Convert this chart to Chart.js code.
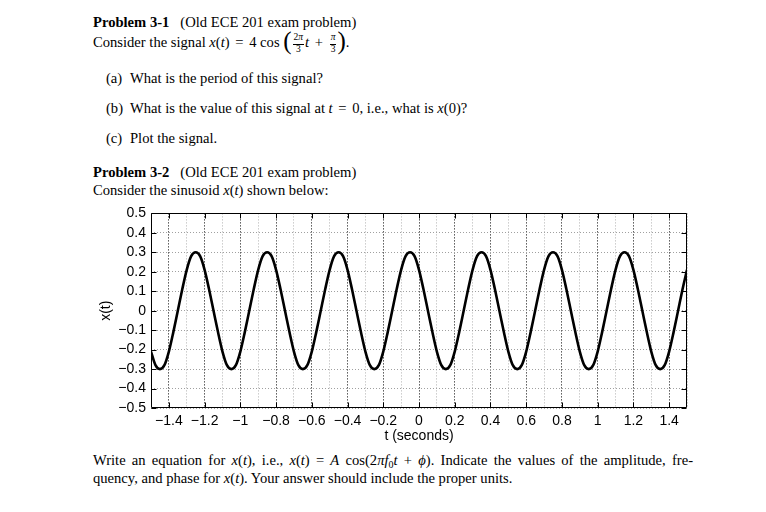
<!DOCTYPE html>
<html>
<head>
<meta charset="utf-8">
<script src="https://cdn.jsdelivr.net/npm/chart.js@4/dist/chart.umd.min.js"></script>
<style>
  html, body { margin:0; padding:0; background:#fff; }
  body { width:766px; height:512px; position:relative; overflow:hidden; }
  .t { position:absolute; left:93px; font-family:'Liberation Serif','Times New Roman',serif; font-size:14.6px; line-height:1; color:#000; white-space:nowrap; }
  .t i { font-style:italic; }
  .lbl { display:inline-block; width:24px; }
  .frac { display:inline-block; vertical-align:-5px; text-align:center; font-size:9.5px; line-height:1; margin:0 1px; }
  .frac .num { display:block; border-bottom:0.8px solid #000; padding:0 1px 1px 1px; }
  .frac .den { display:block; padding-top:0.5px; }
  .big { font-size:25px; line-height:0; position:relative; top:2px; }
  .sub { font-size:10px; position:relative; top:3px; line-height:0; }
  .op { margin:0 2px; }
  #wrap { position:absolute; left:80px; top:200px; width:620px; height:255px; }
</style>
</head>
<body>
<div class="t" style="top:15.1px"><b>Problem 3-1</b><span style="margin-left:11px">(Old ECE 201 exam problem)</span></div>
<div class="t" style="top:22.4px; line-height:40px">Consider the signal <i>x</i>(<i>t</i>)<span class="op"> = </span>4 cos <span class="big">(</span><span class="frac"><span class="num">2<i>π</i></span><span class="den">3</span></span><i>t</i><span class="op"> + </span><span class="frac"><span class="num"><i>π</i></span><span class="den">3</span></span><span class="big">)</span>.</div>
<div class="t" style="top:71.1px; left:106px"><span class="lbl">(a)</span>What is the period of this signal?</div>
<div class="t" style="top:101.1px; left:106px"><span class="lbl">(b)</span>What is the value of this signal at <i>t</i><span class="op"> = </span>0, i.e., what is <i>x</i>(0)?</div>
<div class="t" style="top:130.5px; left:106px"><span class="lbl">(c)</span>Plot the signal.</div>
<div class="t" style="top:164.5px"><b>Problem 3-2</b><span style="margin-left:11px">(Old ECE 201 exam problem)</span></div>
<div class="t" style="top:182.8px">Consider the sinusoid <i>x</i>(<i>t</i>) shown below:</div>
<div class="t" style="top:452.8px; width:600px; white-space:normal; text-align:justify; text-align-last:justify;">Write an equation for <i>x</i>(<i>t</i>), i.e., <i>x</i>(<i>t</i>) = <i>A</i> cos(2<i>π</i><i>f</i><span class="sub">0</span><i>t</i> + <i>ϕ</i>). Indicate the values of the amplitude, fre-</div>
<div class="t" style="top:470.5px">quency, and phase for <i>x</i>(<i>t</i>). Your answer should include the proper units.</div>

<div id="wrap"><canvas id="c" width="620" height="255"></canvas></div>

<script>
// time samples (seconds)
const tValues = [
  -1.500,-1.475,-1.450,-1.425,-1.400,-1.375,-1.350,-1.325,-1.300,-1.275,-1.250,-1.225,-1.200,-1.175,-1.150,-1.125,
  -1.100,-1.075,-1.050,-1.025,-1.000,-0.975,-0.950,-0.925,-0.900,-0.875,-0.850,-0.825,-0.800,-0.775,-0.750,-0.725,
  -0.700,-0.675,-0.650,-0.625,-0.600,-0.575,-0.550,-0.525,-0.500,-0.475,-0.450,-0.425,-0.400,-0.375,-0.350,-0.325,
  -0.300,-0.275,-0.250,-0.225,-0.200,-0.175,-0.150,-0.125,-0.100,-0.075,-0.050,-0.025, 0.000, 0.025, 0.050, 0.075,
   0.100, 0.125, 0.150, 0.175, 0.200, 0.225, 0.250, 0.275, 0.300, 0.325, 0.350, 0.375, 0.400, 0.425, 0.450, 0.475,
   0.500, 0.525, 0.550, 0.575, 0.600, 0.625, 0.650, 0.675, 0.700, 0.725, 0.750, 0.775, 0.800, 0.825, 0.850, 0.875,
   0.900, 0.925, 0.950, 0.975, 1.000, 1.025, 1.050, 1.075, 1.100, 1.125, 1.150, 1.175, 1.200, 1.225, 1.250, 1.275,
   1.300, 1.325, 1.350, 1.375, 1.400, 1.425, 1.450, 1.475, 1.500];
// signal values x(t)
const xValues = [
  -0.21,-0.28,-0.30,-0.28,-0.21,-0.11, 0.00, 0.11, 0.21, 0.28, 0.30, 0.28, 0.21, 0.11, 0.00,-0.11,
  -0.21,-0.28,-0.30,-0.28,-0.21,-0.11, 0.00, 0.11, 0.21, 0.28, 0.30, 0.28, 0.21, 0.11, 0.00,-0.11,
  -0.21,-0.28,-0.30,-0.28,-0.21,-0.11, 0.00, 0.11, 0.21, 0.28, 0.30, 0.28, 0.21, 0.11, 0.00,-0.11,
  -0.21,-0.28,-0.30,-0.28,-0.21,-0.11, 0.00, 0.11, 0.21, 0.28, 0.30, 0.28, 0.21, 0.11, 0.00,-0.11,
  -0.21,-0.28,-0.30,-0.28,-0.21,-0.11, 0.00, 0.11, 0.21, 0.28, 0.30, 0.28, 0.21, 0.11, 0.00,-0.11,
  -0.21,-0.28,-0.30,-0.28,-0.21,-0.11, 0.00, 0.11, 0.21, 0.28, 0.30, 0.28, 0.21, 0.11, 0.00,-0.11,
  -0.21,-0.28,-0.30,-0.28,-0.21,-0.11, 0.00, 0.11, 0.21, 0.28, 0.30, 0.28, 0.21, 0.11, 0.00,-0.11,
  -0.21,-0.28,-0.30,-0.28,-0.21,-0.11, 0.00, 0.11, 0.21];
// axis ticks
const xTickValues = [-1.4,-1.2,-1,-0.8,-0.6,-0.4,-0.2,0,0.2,0.4,0.6,0.8,1,1.2,1.4];
const yTickValues = [-0.5,-0.4,-0.3,-0.2,-0.1,0,0.1,0.2,0.3,0.4,0.5];
const xLabel = 't (seconds)';
const yLabel = 'x(t)';

const MINUS = '\u2212';
function fmt(v) {
  const n = Math.round(v * 10);
  if (n === 0) return '0';
  let s = (n % 10 === 0) ? String(n / 10) : (n / 10).toFixed(1);
  return s.replace('-', MINUS);
}
function isMajorX(v) {
  const n = Math.round(v * 10);
  return xTickValues.some(t => Math.round(t * 10) === n);
}

const frameTicks = {
  id: 'frameTicks',
  afterDraw(chart) {
    const {ctx, chartArea: a, scales: {x, y}} = chart;
    ctx.save();
    ctx.strokeStyle = '#000';
    ctx.lineWidth = 1;
    const L = Math.round(a.left) + 0.5, R = Math.round(a.right) - 0.5;
    const T = Math.round(a.top) + 0.5, B = Math.round(a.bottom) - 0.5;
    ctx.beginPath();
    ctx.rect(L, T, R - L, B - T);
    xTickValues.forEach(v => {
      const p = Math.round(x.getPixelForValue(v)) + 0.5;
      ctx.moveTo(p, B); ctx.lineTo(p, B - 5);
      ctx.moveTo(p, T); ctx.lineTo(p, T + 5);
    });
    yTickValues.forEach(v => {
      const p = Math.round(y.getPixelForValue(v)) + 0.5;
      ctx.moveTo(L, p); ctx.lineTo(L + 5, p);
      ctx.moveTo(R, p); ctx.lineTo(R - 5, p);
    });
    ctx.stroke();
    ctx.restore();
  }
};

const sansFamily = "'Liberation Sans', Arial, sans-serif";
const tickFont = {family: sansFamily, size: 14};

new Chart(document.getElementById('c'), {
  type: 'line',
  data: {
    datasets: [{
      data: tValues.map((t, i) => ({x: t, y: xValues[i]})),
      borderColor: '#000',
      borderWidth: 2.6,
      pointRadius: 0,
      fill: false,
      cubicInterpolationMode: 'monotone'
    }]
  },
  options: {
    responsive: false,
    animation: false,
    devicePixelRatio: 1,
    layout: {padding: {top: 11, right: 13, left: 0, bottom: 0}},
    plugins: {legend: {display: false}, tooltip: {enabled: false}},
    scales: {
      x: {
        type: 'linear', min: -1.5, max: 1.5,
        afterFit(s) { s.height = 47; },
        ticks: {
          stepSize: 0.1, autoSkip: false, maxRotation: 0, minRotation: 0,
          padding: 5, color: '#000', font: tickFont,
          callback: v => isMajorX(v) ? fmt(v) : ''
        },
        grid: {
          drawTicks: false, lineWidth: 1,
          color: ctx => (ctx.tick && isMajorX(ctx.tick.value)) ? '#000' : '#b0b0b0'
        },
        border: {display: false, dash: [1, 2]},
        title: {display: true, text: xLabel, color: '#000',
                font: {family: sansFamily, size: 14},
                padding: {top: 0, bottom: 10}}
      },
      y: {
        type: 'linear', min: -0.5, max: 0.5,
        afterFit(s) { s.width = 71; },
        afterBuildTicks(s) { s.ticks = yTickValues.map(v => ({value: v})); },
        ticks: {
          autoSkip: false,
          padding: 5, color: '#000', font: tickFont,
          callback: v => fmt(v)
        },
        grid: {drawTicks: false, lineWidth: 1, color: '#a0a0a0'},
        border: {display: false, dash: [1, 2]},
        title: {display: true, text: yLabel, color: '#000',
                font: {family: sansFamily, size: 14},
                padding: {top: 17.5, bottom: 0}}
      }
    }
  },
  plugins: [frameTicks]
});
</script>
</body>
</html>
